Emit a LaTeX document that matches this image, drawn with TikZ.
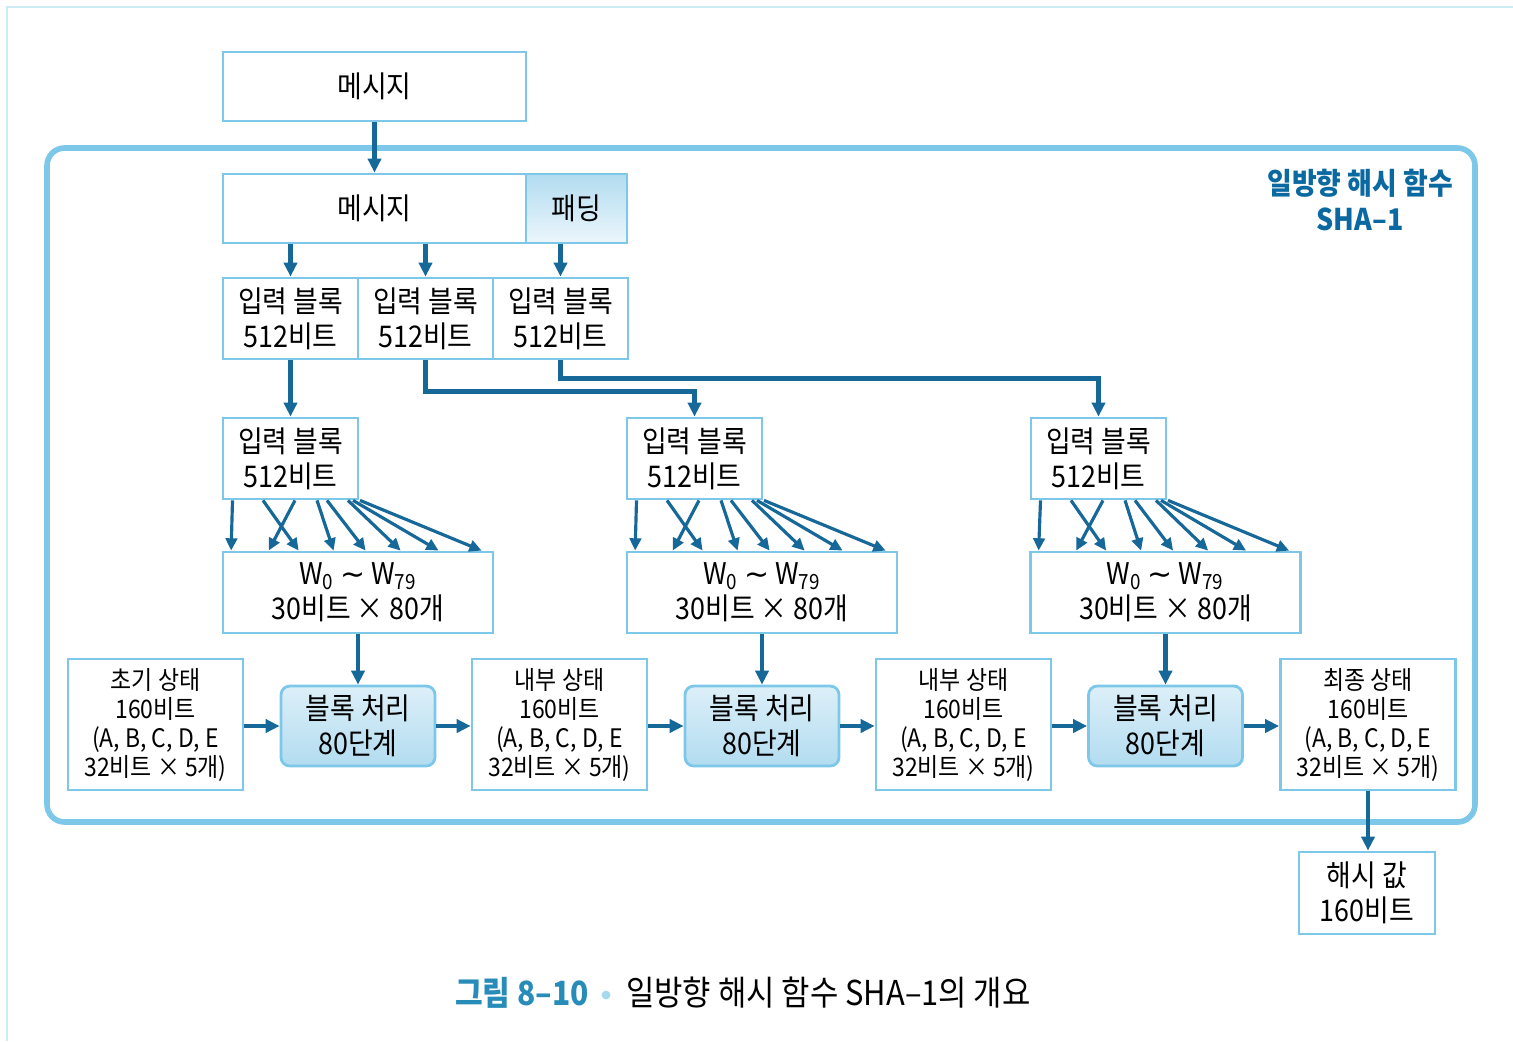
\documentclass[tikz,border=0pt]{standalone}
\usepackage{fontspec}
\setmainfont{Noto Sans CJK KR}[FakeStretch=0.9]
\newfontfamily\symfont{DejaVu Sans}
\usepackage{tikz}
\usetikzlibrary{positioning,arrows.meta,calc}
\definecolor{boxblue}{RGB}{125,200,232}
\definecolor{arrowblue}{RGB}{22,104,152}
\definecolor{procfill}{RGB}{178,220,240}
\definecolor{titleblue}{RGB}{10,105,160}
\definecolor{capblue}{RGB}{40,140,185}
\definecolor{pageline}{RGB}{205,235,245}
\newcommand{\wrange}{W\textsubscript{0} {\symfont ∼} W\textsubscript{79}}

\begin{document}
\begin{tikzpicture}[x=0.02cm,y=-0.02cm,
  box/.style={draw=boxblue,line width=1.6pt,inner sep=0pt,align=center,font=\fontsize{17}{20}\selectfont},
  procbox/.style={box,rounded corners=5pt,top color=procfill!45,bottom color=procfill},
  statebox/.style={box,font=\fontsize{14.5}{16.5}\selectfont},
  arr/.style={draw=arrowblue,line width=2.4pt,-{Triangle[length=8pt,width=7.5pt]}},
  fan/.style={draw=arrowblue,line width=1.8pt,-{Triangle[length=7pt,width=6.5pt]}}
]
\useasboundingbox (0,0) rectangle (1513,1041);
\draw[pageline,line width=1pt] (7,1041) -- (7,7) -- (1513,7);

% outer frame of the hash function
\draw[boxblue,line width=3.2pt,rounded corners=10pt] (47,148) rectangle (1475,822);
\node[align=center,text=titleblue,font=\fontsize{17}{21}\selectfont\bfseries] (title) at (1360,200) {일방향 해시 함수\\SHA–1};

% message and padding
\node[box,minimum width=6.06cm,minimum height=1.38cm] (msg) at (374.5,86.5) {메시지};
\node[box,minimum width=6.06cm,minimum height=1.38cm] (msgpad) at (374.5,208.5) {메시지};
\node[box,minimum width=2.02cm,minimum height=1.38cm,top color=procfill,bottom color=procfill!25] (pad) at (576.5,208.5) {패딩};

% input blocks
\node[box,minimum width=2.7cm,minimum height=1.62cm] (in1) at (290.5,318.5) {입력 블록\\512비트};
\node[box,minimum width=2.7cm,minimum height=1.62cm] (in2) at (425.5,318.5) {입력 블록\\512비트};
\node[box,minimum width=2.7cm,minimum height=1.62cm] (in3) at (560.5,318.5) {입력 블록\\512비트};

\node[box,minimum width=2.7cm,minimum height=1.62cm] (blk1) at (290.5,458.5) {입력 블록\\512비트};
\node[box,minimum width=2.7cm,minimum height=1.62cm] (blk2) at (694.5,458.5) {입력 블록\\512비트};
\node[box,minimum width=2.7cm,minimum height=1.62cm] (blk3) at (1098.5,458.5) {입력 블록\\512비트};

% words
\node[box,minimum width=5.4cm,minimum height=1.62cm] (w1) at (358,592.5) {\wrange\\30비트 × 80개};
\node[box,minimum width=5.4cm,minimum height=1.62cm] (w2) at (762,592.5) {\wrange\\30비트 × 80개};
\node[box,minimum width=5.4cm,minimum height=1.62cm] (w3) at (1165.5,592.5) {\wrange\\30비트 × 80개};

% block processing
\node[procbox,minimum width=3.08cm,minimum height=1.6cm] (proc1) at (358,726) {블록 처리\\80단계};
\node[procbox,minimum width=3.08cm,minimum height=1.6cm] (proc2) at (762,726) {블록 처리\\80단계};
\node[procbox,minimum width=3.08cm,minimum height=1.6cm] (proc3) at (1165.5,726) {블록 처리\\80단계};

% states
\node[statebox,minimum width=3.5cm,minimum height=2.62cm] (st0) at (155.5,724.5) {초기 상태\\160비트\\(A, B, C, D, E\\32비트 × 5개)};
\node[statebox,minimum width=3.5cm,minimum height=2.62cm] (st1) at (559.5,724.5) {내부 상태\\160비트\\(A, B, C, D, E\\32비트 × 5개)};
\node[statebox,minimum width=3.5cm,minimum height=2.62cm] (st2) at (963.5,724.5) {내부 상태\\160비트\\(A, B, C, D, E\\32비트 × 5개)};
\node[statebox,minimum width=3.5cm,minimum height=2.62cm] (st3) at (1368,724.5) {최종 상태\\160비트\\(A, B, C, D, E\\32비트 × 5개)};

\node[box,minimum width=2.72cm,minimum height=1.64cm] (hash) at (1367,893) {해시 값\\160비트};

% connectors
\draw[arr] (msg) -- (msgpad);
\draw[arr] (in1 |- msgpad.south) -- (in1.north);
\draw[arr] (in2 |- msgpad.south) -- (in2.north);
\draw[arr] (in3 |- pad.south) -- (in3.north);
\draw[arr] (in1) -- (blk1);
\draw[arr] (in2.south) -- ++(0,31) -| (blk2.north);
\draw[arr] (in3.south) -- ++(0,18) -| (blk3.north);

\foreach \i in {1,2,3} {
  \foreach \a/\b in {-58/9.5,-27.5/77,4.5/47,26.5/112,36.5/144,57.5/179,62.5/217,69.5/260}
    \draw[fan] ($(blk\i.south)+(\a,0)$) -- ($(w\i.north west)+(\b,0)$);
  \draw[arr] (w\i) -- (proc\i);
}

\draw[arr] (st0.east |- proc1) -- (proc1.west);
\draw[arr] (proc1.east) -- (st1.west |- proc1);
\draw[arr] (st1.east |- proc2) -- (proc2.west);
\draw[arr] (proc2.east) -- (st2.west |- proc2);
\draw[arr] (st2.east |- proc3) -- (proc3.west);
\draw[arr] (proc3.east) -- (st3.west |- proc3);
\draw[arr] (st3.south) -- (st3.south |- hash.north);

% caption
\node[text=capblue,font=\fontsize{19}{22}\selectfont\bfseries] (fignum) at (522,993) {그림 8–10};
\node[circle,fill=boxblue!70,inner sep=0pt,minimum size=5pt] (dot) at (606,995) {};
\node[anchor=west,font=\fontsize{19.5}{22}\selectfont] (caption) at (620,993) {일방향 해시 함수 SHA–1의 개요};
\end{tikzpicture}
\end{document}
